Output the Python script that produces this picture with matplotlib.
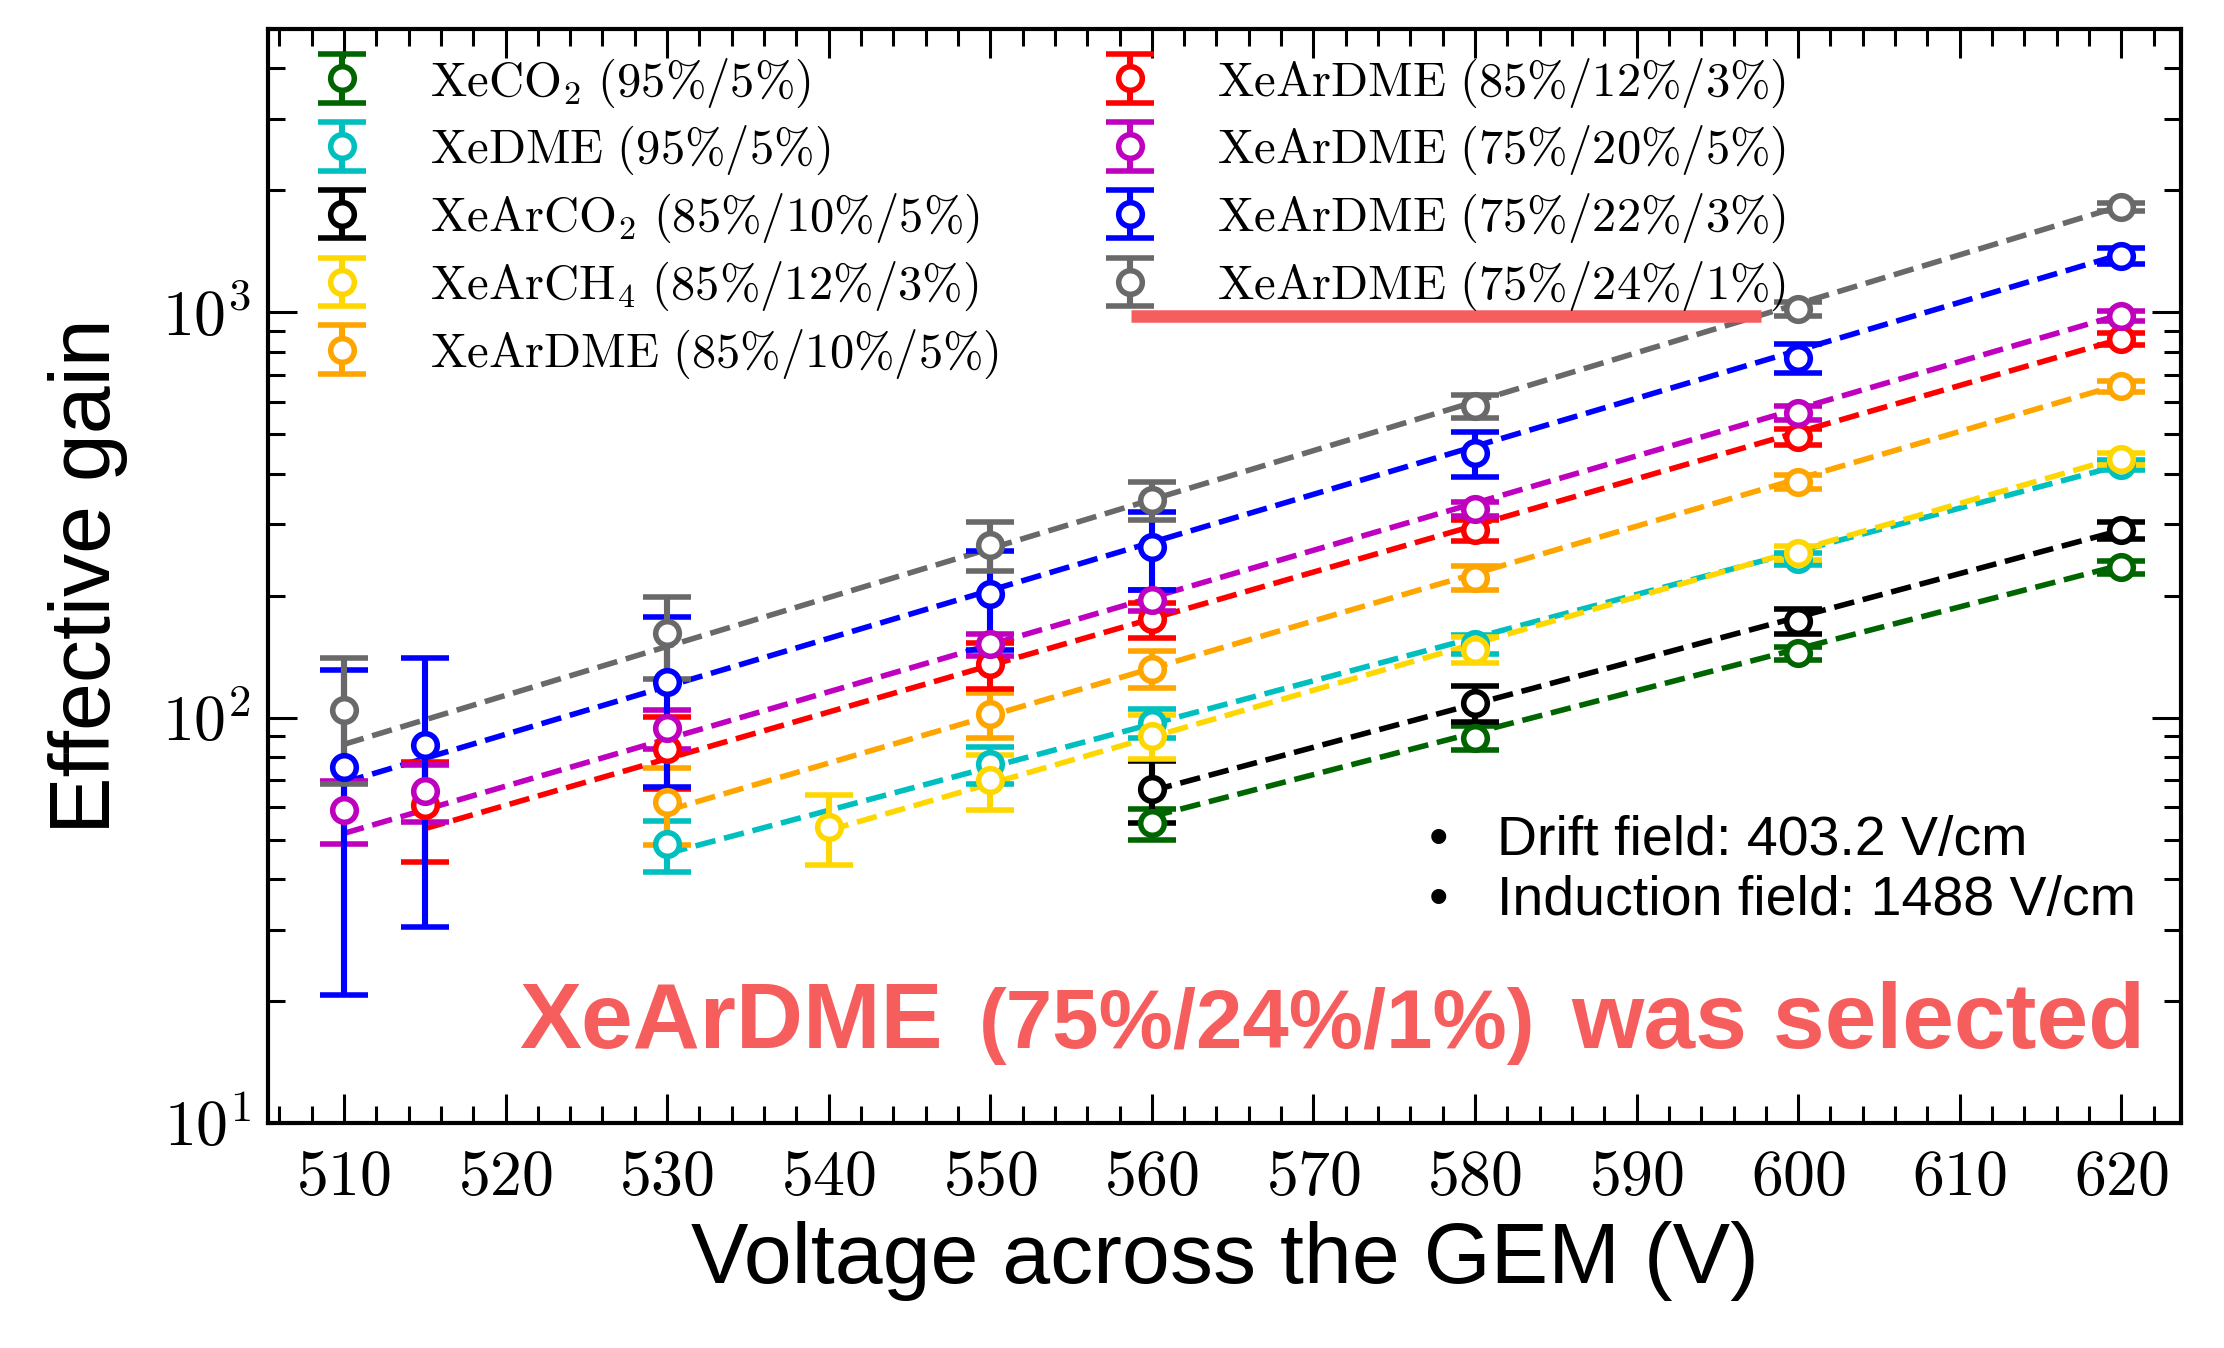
import numpy as np
import matplotlib
matplotlib.use('Agg')
import matplotlib.pyplot as plt
from matplotlib.ticker import MultipleLocator, FuncFormatter

plt.rcParams['mathtext.fontset'] = 'cm'
plt.rcParams['font.family'] = ['Liberation Sans', 'DejaVu Sans']

# gas mixtures (legend order)
labels = [r'$\mathrm{XeCO_2\ (95\%/5\%)}$',
          r'$\mathrm{XeDME\ (95\%/5\%)}$',
          r'$\mathrm{XeArCO_2\ (85\%/10\%/5\%)}$',
          r'$\mathrm{XeArCH_4\ (85\%/12\%/3\%)}$',
          r'$\mathrm{XeArDME\ (85\%/10\%/5\%)}$',
          r'$\mathrm{XeArDME\ (85\%/12\%/3\%)}$',
          r'$\mathrm{XeArDME\ (75\%/20\%/5\%)}$',
          r'$\mathrm{XeArDME\ (75\%/22\%/3\%)}$',
          r'$\mathrm{XeArDME\ (75\%/24\%/1\%)}$']
colors = ['#006400', '#00BFBF', '#000000', '#FFD700', '#FFA500',
          '#FF0000', '#BF00BF', '#0000FF', '#696969']

# voltage across the GEM (V)
v_xeco2 = [560, 580, 600, 620]
v_xedme = [530, 550, 560, 580, 600, 620]
v_xearco2 = [560, 580, 600, 620]
v_xearch4 = [540, 550, 560, 580, 600, 620]
v_dme_85_10_5 = [530, 550, 560, 580, 600, 620]
v_dme_85_12_3 = [515, 530, 550, 560, 580, 600, 620]
v_dme_75_20_5 = [510, 515, 530, 550, 560, 580, 600, 620]
v_dme_75_22_3 = [510, 515, 530, 550, 560, 580, 600, 620]
v_dme_75_24_1 = [510, 530, 550, 560, 580, 600, 620]

# effective gain
g_xeco2 = [54.8, 89.3, 144, 235]
g_xedme = [48.7, 76.7, 96.9, 151.7, 246.6, 420]
g_xearco2 = [66.5, 108.6, 173, 290]
g_xearch4 = [53.8, 70, 90.2, 147, 255, 435]
g_dme_85_10_5 = [61.8, 101.9, 132, 221, 381, 656]
g_dme_85_12_3 = [60.7, 83.5, 135.3, 174.6, 290, 493, 858]
g_dme_75_20_5 = [59.3, 65.9, 94, 151.5, 195, 327, 564, 979]
g_dme_75_22_3 = [75.7, 85.4, 122.3, 202, 264, 449, 771, 1377]
g_dme_75_24_1 = [104.6, 161.8, 266.6, 345, 586, 1021, 1819]

# gain uncertainty
e_xeco2 = [4.8, 5.9, 5.2, 9]
e_xedme = [7, 8, 8, 8.5, 8, 12]
e_xearco2 = [11.5, 11, 12, 14]
e_xearch4 = [10.5, 11, 11, 11, 10, 14]
e_dme_85_10_5 = [13.3, 13, 14, 15, 15.5, 20]
e_dme_85_12_3 = [16.8, 17, 17.5, 17, 17, 22, 30]
e_dme_75_20_5 = [10.5, 10.6, 10.3, 9.6, 12, 13, 23, 30]
e_dme_75_22_3 = [55, 55, 55, 55.5, 57, 57, 62, 63]
e_dme_75_24_1 = [36, 37, 37, 37, 38, 40, 45]

# exponential fit, value at first and last voltage
fit_xeco2 = [57, 238]
fit_xedme = [46.2, 420]
fit_xearco2 = [66, 290]
fit_xearch4 = [52.7, 440]
fit_dme_85_10_5 = [59, 665]
fit_dme_85_12_3 = [53.2, 860]
fit_dme_75_20_5 = [51.8, 988]
fit_dme_75_22_3 = [69.2, 1390]
fit_dme_75_24_1 = [85.9, 1830]

volts = [v_xeco2, v_xedme, v_xearco2, v_xearch4, v_dme_85_10_5,
         v_dme_85_12_3, v_dme_75_20_5, v_dme_75_22_3, v_dme_75_24_1]
gains = [g_xeco2, g_xedme, g_xearco2, g_xearch4, g_dme_85_10_5,
         g_dme_85_12_3, g_dme_75_20_5, g_dme_75_22_3, g_dme_75_24_1]
errs = [e_xeco2, e_xedme, e_xearco2, e_xearch4, e_dme_85_10_5,
        e_dme_85_12_3, e_dme_75_20_5, e_dme_75_22_3, e_dme_75_24_1]
fits = [fit_xeco2, fit_xedme, fit_xearco2, fit_xearch4, fit_dme_85_10_5,
        fit_dme_85_12_3, fit_dme_75_20_5, fit_dme_75_22_3, fit_dme_75_24_1]

red = '#F65E5E'

fig, ax = plt.subplots(figsize=(11.12, 6.74), dpi=200)
fig.subplots_adjust(left=0.1205, right=0.9807, top=0.9785, bottom=0.167)

for v, g, e, f, c, lab in zip(volts, gains, errs, fits, colors, labels):
    ax.plot([v[0], v[-1]], f, '--', color=c, lw=2.0, zorder=1)
    ax.errorbar(v, g, yerr=e, fmt='o', color=c, mfc='white', mec=c,
                ms=8.5, mew=2.0, elinewidth=2.2, capsize=8.5, capthick=2.0,
                label=lab, zorder=2)

ax.set_yscale('log')
ax.set_xlim(505.3, 623.7)
ax.set_ylim(10, 5000)
ax.xaxis.set_major_locator(MultipleLocator(10))
ax.xaxis.set_minor_locator(MultipleLocator(2))
ax.xaxis.set_major_formatter(FuncFormatter(lambda x, p: r'$%d$' % x))
ax.yaxis.set_major_formatter(FuncFormatter(lambda y, p: r'$10^{%d}$' % round(np.log10(y))))
ax.tick_params(which='both', direction='in', top=True, right=True, width=1.1)
ax.tick_params(which='major', length=10.5, labelsize=23)
ax.tick_params(axis='x', which='major', pad=9)
ax.tick_params(axis='y', which='major', pad=6)
ax.tick_params(which='minor', length=6)
for s in ax.spines.values():
    s.set_linewidth(1.5)

ax.set_xlabel('Voltage across the GEM (V)', fontsize=31)
ax.set_ylabel('Effective gain', fontsize=31)
ax.xaxis.set_label_coords(0.5, -0.09)
ax.yaxis.set_label_coords(-0.073, 0.5)

ax.legend(ncol=2, loc='upper left', bbox_to_anchor=(0.0133, 0.975),
          borderaxespad=0, borderpad=0, frameon=False, fontsize=17.5,
          handlelength=2, handletextpad=0.8, columnspacing=1.7, labelspacing=0.3)

# underline of the selected mixture
ax.plot([558.7, 597.7], [980, 980], color=red, lw=4.5, solid_capstyle='butt', zorder=3)

for yb, txt in [(0.245, 'Drift field: 403.2 V/cm'), (0.190, 'Induction field: 1488 V/cm')]:
    ax.text(0.612, yb, '\u2022', transform=ax.transAxes, fontsize=20, ha='center', va='baseline')
    ax.text(0.6424, yb, txt, transform=ax.transAxes, fontsize=20, va='baseline')

# "XeArDME (75%/24%/1%) was selected"
t1 = ax.text(0.1315, 0.0686, 'XeArDME', transform=ax.transAxes, fontsize=33.5,
             fontweight='bold', color=red, va='baseline')
fig.canvas.draw()
r = fig.canvas.get_renderer()
bb = t1.get_window_extent(r)
x2 = ax.transAxes.inverted().transform((bb.x1 + 36, 0))[0]
t2 = ax.text(x2, 0.0686, '(75%/24%/1%)', transform=ax.transAxes, fontsize=30,
             fontweight='bold', color=red, va='baseline')
fig.canvas.draw()
bb = t2.get_window_extent(r)
x3 = ax.transAxes.inverted().transform((bb.x1 + 36, 0))[0]
ax.text(x3, 0.0686, 'was selected', transform=ax.transAxes, fontsize=33.5,
        fontweight='bold', color=red, va='baseline')

fig.savefig('out.png', dpi=200)
